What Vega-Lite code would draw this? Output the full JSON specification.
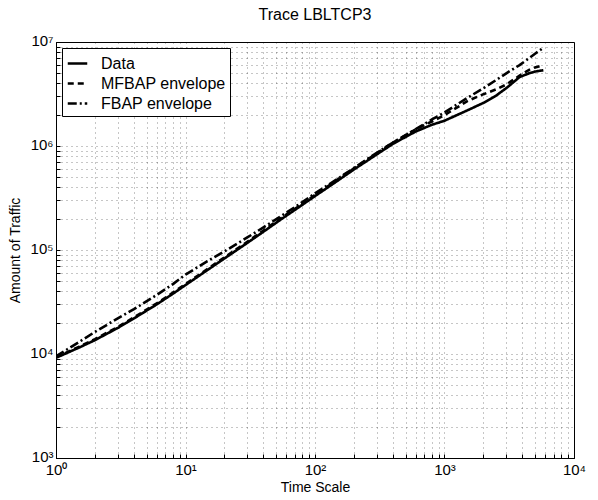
{
  "$schema": "https://vega.github.io/schema/vega-lite/v6.json",
  "autosize": "none",
  "width": 518,
  "height": 416,
  "padding": {"left": 56, "top": 42, "right": 24, "bottom": 42},
  "background": "white",
  "title": {"text": "Trace LBLTCP3", "font": "Liberation Sans", "fontSize": 16, "fontWeight": "normal", "color": "black", "offset": 10},
  "config": {
    "view": {"stroke": "black", "strokeWidth": 1},
    "axis": {
      "labelFont": "Liberation Sans", "labelFontSize": 15, "labelColor": "black",
      "titleFont": "Liberation Sans", "titleFontSize": 14, "titleFontWeight": "normal", "titleColor": "black",
      "domainColor": "black", "tickColor": "black", "tickSize": -4,
      "grid": true, "gridColor": "black", "gridDash": [1, 4], "gridOpacity": 0.45, "gridWidth": 1
    }
  },
  "data": {"values": [
    {"t": 1, "v": 9200, "s": "Data"}, {"t": 1.5, "v": 11500, "s": "Data"}, {"t": 2, "v": 13600, "s": "Data"}, {"t": 3, "v": 17800, "s": "Data"}, {"t": 4, "v": 22000, "s": "Data"}, {"t": 6, "v": 30000, "s": "Data"}, {"t": 8, "v": 38000, "s": "Data"}, {"t": 10, "v": 46000, "s": "Data"}, {"t": 15, "v": 65000, "s": "Data"}, {"t": 20, "v": 83000, "s": "Data"}, {"t": 30, "v": 117000, "s": "Data"}, {"t": 40, "v": 150000, "s": "Data"}, {"t": 54, "v": 195000, "s": "Data"}, {"t": 70, "v": 243000, "s": "Data"}, {"t": 100, "v": 330000, "s": "Data"}, {"t": 150, "v": 465000, "s": "Data"}, {"t": 200, "v": 595000, "s": "Data"}, {"t": 300, "v": 830000, "s": "Data"}, {"t": 400, "v": 1050000, "s": "Data"}, {"t": 600, "v": 1380000, "s": "Data"}, {"t": 800, "v": 1600000, "s": "Data"}, {"t": 1000, "v": 1750000, "s": "Data"}, {"t": 1500, "v": 2200000, "s": "Data"}, {"t": 2000, "v": 2600000, "s": "Data"}, {"t": 2500, "v": 3050000, "s": "Data"}, {"t": 3000, "v": 3600000, "s": "Data"}, {"t": 3800, "v": 4600000, "s": "Data"}, {"t": 4500, "v": 5000000, "s": "Data"}, {"t": 5000, "v": 5200000, "s": "Data"}, {"t": 5800, "v": 5350000, "s": "Data"},
    {"t": 1, "v": 9300, "s": "MFBAP envelope"}, {"t": 1.5, "v": 11700, "s": "MFBAP envelope"}, {"t": 2, "v": 13900, "s": "MFBAP envelope"}, {"t": 3, "v": 18200, "s": "MFBAP envelope"}, {"t": 4, "v": 22500, "s": "MFBAP envelope"}, {"t": 6, "v": 30700, "s": "MFBAP envelope"}, {"t": 8, "v": 38900, "s": "MFBAP envelope"}, {"t": 10, "v": 47000, "s": "MFBAP envelope"}, {"t": 15, "v": 66500, "s": "MFBAP envelope"}, {"t": 20, "v": 85000, "s": "MFBAP envelope"}, {"t": 30, "v": 120000, "s": "MFBAP envelope"}, {"t": 40, "v": 154000, "s": "MFBAP envelope"}, {"t": 54, "v": 200000, "s": "MFBAP envelope"}, {"t": 70, "v": 249000, "s": "MFBAP envelope"}, {"t": 100, "v": 338000, "s": "MFBAP envelope"}, {"t": 150, "v": 477000, "s": "MFBAP envelope"}, {"t": 200, "v": 610000, "s": "MFBAP envelope"}, {"t": 300, "v": 850000, "s": "MFBAP envelope"}, {"t": 400, "v": 1080000, "s": "MFBAP envelope"}, {"t": 600, "v": 1450000, "s": "MFBAP envelope"}, {"t": 800, "v": 1720000, "s": "MFBAP envelope"}, {"t": 1000, "v": 1980000, "s": "MFBAP envelope"}, {"t": 1500, "v": 2700000, "s": "MFBAP envelope"}, {"t": 2000, "v": 3150000, "s": "MFBAP envelope"}, {"t": 2500, "v": 3500000, "s": "MFBAP envelope"}, {"t": 3000, "v": 3900000, "s": "MFBAP envelope"}, {"t": 3800, "v": 4750000, "s": "MFBAP envelope"}, {"t": 4500, "v": 5400000, "s": "MFBAP envelope"}, {"t": 5000, "v": 5700000, "s": "MFBAP envelope"}, {"t": 5800, "v": 6000000, "s": "MFBAP envelope"},
    {"t": 1, "v": 9500, "s": "FBAP envelope"}, {"t": 1.5, "v": 13000, "s": "FBAP envelope"}, {"t": 2, "v": 16300, "s": "FBAP envelope"}, {"t": 3, "v": 22000, "s": "FBAP envelope"}, {"t": 4, "v": 27000, "s": "FBAP envelope"}, {"t": 6, "v": 37000, "s": "FBAP envelope"}, {"t": 8, "v": 47000, "s": "FBAP envelope"}, {"t": 10, "v": 58000, "s": "FBAP envelope"}, {"t": 15, "v": 79000, "s": "FBAP envelope"}, {"t": 20, "v": 97000, "s": "FBAP envelope"}, {"t": 30, "v": 132000, "s": "FBAP envelope"}, {"t": 40, "v": 165000, "s": "FBAP envelope"}, {"t": 54, "v": 210000, "s": "FBAP envelope"}, {"t": 70, "v": 258000, "s": "FBAP envelope"}, {"t": 100, "v": 350000, "s": "FBAP envelope"}, {"t": 150, "v": 485000, "s": "FBAP envelope"}, {"t": 200, "v": 615000, "s": "FBAP envelope"}, {"t": 300, "v": 860000, "s": "FBAP envelope"}, {"t": 400, "v": 1080000, "s": "FBAP envelope"}, {"t": 600, "v": 1450000, "s": "FBAP envelope"}, {"t": 800, "v": 1800000, "s": "FBAP envelope"}, {"t": 1000, "v": 2100000, "s": "FBAP envelope"}, {"t": 1500, "v": 2900000, "s": "FBAP envelope"}, {"t": 2000, "v": 3600000, "s": "FBAP envelope"}, {"t": 2500, "v": 4300000, "s": "FBAP envelope"}, {"t": 3000, "v": 5000000, "s": "FBAP envelope"}, {"t": 3800, "v": 6000000, "s": "FBAP envelope"}, {"t": 4500, "v": 7000000, "s": "FBAP envelope"}, {"t": 5000, "v": 7700000, "s": "FBAP envelope"}, {"t": 5800, "v": 8800000, "s": "FBAP envelope"}
  ]},
  "mark": {"type": "line", "color": "black", "strokeWidth": 2.6, "clip": true},
  "encoding": {
    "x": {
      "field": "t", "type": "quantitative", "title": "Time Scale",
      "scale": {"type": "log", "domain": [1, 10000], "nice": false},
      "axis": {
        "values": [1,2,3,4,5,6,7,8,9,10,20,30,40,50,60,70,80,90,100,200,300,400,500,600,700,800,900,1000,2000,3000,4000,5000,6000,7000,8000,9000,10000],
        "labelExpr": "indexof([1,10,100,1000,10000], datum.value) >= 0 ? '10' + ['⁰','¹','²','³','⁴'][indexof([1,10,100,1000,10000], datum.value)] : ''",
        "labelPadding": 8, "titlePadding": 3, "labelFlush": false
      }
    },
    "y": {
      "field": "v", "type": "quantitative", "title": "Amount of Traffic",
      "scale": {"type": "log", "domain": [1000, 10000000], "nice": false},
      "axis": {
        "values": [1000,2000,3000,4000,5000,6000,7000,8000,9000,10000,20000,30000,40000,50000,60000,70000,80000,90000,100000,200000,300000,400000,500000,600000,700000,800000,900000,1000000,2000000,3000000,4000000,5000000,6000000,7000000,8000000,9000000,10000000],
        "labelExpr": "indexof([1000,10000,100000,1000000,10000000], datum.value) >= 0 ? '10' + ['³','⁴','⁵','⁶','⁷'][indexof([1000,10000,100000,1000000,10000000], datum.value)] : ''",
        "labelPadding": 7, "titlePadding": 7, "labelFlush": false, "labelOffset": -2
      }
    },
    "strokeDash": {
      "field": "s", "type": "nominal",
      "scale": {"domain": ["Data", "MFBAP envelope", "FBAP envelope"], "range": [[1, 0], [6, 4], [9, 3, 2, 3]]},
      "legend": {
        "title": null, "orient": "none", "legendX": 6, "legendY": 6,
        "fillColor": "white", "strokeColor": "black", "padding": 4,
        "labelFont": "Liberation Sans", "labelFontSize": 16, "labelColor": "black",
        "symbolType": "stroke", "symbolStrokeColor": "black", "symbolStrokeWidth": 2.6, "symbolSize": 380,
        "rowPadding": 0, "labelOffset": 12, "offset": 0
      }
    }
  }
}
